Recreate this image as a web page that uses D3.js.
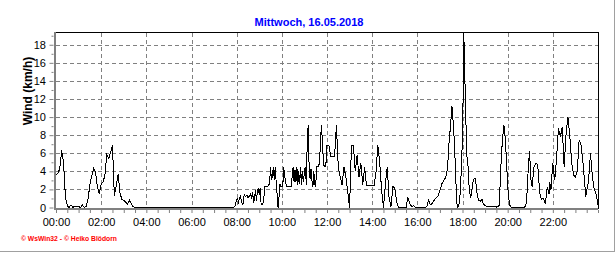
<!DOCTYPE html>
<html>
<head>
<meta charset="utf-8">
<script src="https://cdn.jsdelivr.net/npm/d3@7"></script>
<style>
  body { margin: 0; background: #fff; }
  svg text { font-family: "Liberation Sans", Arial, sans-serif; }
</style>
</head>
<body>
<svg id="chart" width="616" height="253"></svg>
<script>
// *** DATA ***
var title = "Mittwoch, 16.05.2018";
var yTitle = "Wind (km/h)";
var credit = "\u00a9 WsWin32 - \u00a9 Heiko Bl\u00f6dorn";

var hourTicks = [0, 120, 240, 360, 480, 600, 720, 840, 960, 1080, 1200, 1320];
var hourLabels = ["00:00", "02:00", "04:00", "06:00", "08:00", "10:00",
                  "12:00", "14:00", "16:00", "18:00", "20:00", "22:00"];
var halfHourTicks = [0, 30, 60, 90, 120, 150, 180, 210, 240, 270, 300, 330, 360, 390, 420, 450,
                     480, 510, 540, 570, 600, 630, 660, 690, 720, 750, 780, 810, 840, 870, 900, 930,
                     960, 990, 1020, 1050, 1080, 1110, 1140, 1170, 1200, 1230, 1260, 1290, 1320,
                     1350, 1380, 1410, 1440];
var yTicks = [0, 2, 4, 6, 8, 10, 12, 14, 16, 18];
var yMinorTicks = [1, 3, 5, 7, 9, 11, 13, 15, 17, 19];

// minutes after midnight
var minutes = [
  // 00:00 - 03:55
  0, 5, 10, 15, 20, 25, 30, 35, 40, 45, 50, 55,
  60, 65, 70, 75, 80, 85, 90, 95, 100, 105, 110, 115,
  120, 125, 130, 135, 140, 145, 150, 155, 160, 165, 170, 175,
  180, 185, 190, 195, 200, 205, 210, 215, 220, 225, 230, 235,
  // 04:00 - 07:57
  240, 250, 260, 270, 280, 290, 300, 310, 320, 330, 340, 350,
  360, 370, 380, 390, 400, 410, 420, 430, 440, 450, 460, 470, 475, 477.5,
  // 08:00 - 09:57
  480, 482.5, 485, 487.5, 490, 492.5, 495, 497.5, 500, 502.5, 505, 507.5,
  510, 512.5, 515, 517.5, 520, 522.5, 525, 527.5, 530, 532.5, 535, 537.5,
  540, 542.5, 545, 547.5, 550, 552.5, 555, 557.5, 560, 562.5, 565, 567.5,
  570, 572.5, 575, 577.5, 580, 582.5, 585, 587.5, 590, 592.5, 595, 597.5,
  // 10:00 - 11:57
  600, 602.5, 605, 607.5, 610, 612.5, 615, 617.5, 620, 622.5, 625, 627.5,
  630, 632.5, 635, 637.5, 640, 642.5, 645, 647.5, 650, 652.5, 655, 657.5,
  660, 662.5, 665, 667.5, 670, 672.5, 675, 677.5, 680, 682.5, 685, 687.5,
  690, 692.5, 695, 697.5, 700, 702.5, 705, 707.5, 710, 712.5, 715, 717.5,
  // 12:00 - 17:15
  720, 725, 730, 735, 740, 745, 750, 755, 760, 765, 770, 775,
  780, 785, 790, 795, 800, 805, 810, 815, 820, 825, 830, 835,
  840, 845, 850, 855, 860, 865, 870, 875, 880, 885, 890, 895,
  900, 905, 910, 915, 920, 925, 930, 935, 940, 945, 950, 955,
  960, 965, 970, 975, 980, 985, 990, 995, 1000, 1005, 1010, 1015,
  1020, 1025, 1030, 1035,
  // 17:20 - 19:00
  1040, 1044, 1048, 1052, 1056, 1059, 1061.5, 1065, 1068, 1072, 1075, 1079,
  1081.5, 1083.5, 1085.5, 1089.5, 1092, 1095, 1097.5, 1101, 1103.5, 1107, 1111, 1114,
  1117, 1119.5, 1123, 1127.5, 1132, 1135.5, 1140,
  // 19:05 - 24:00
  1145, 1150, 1155, 1160, 1165, 1170, 1175, 1178, 1181, 1186, 1190, 1194,
  1197, 1201, 1205, 1210, 1220, 1230, 1240, 1245, 1250, 1255, 1258, 1262,
  1265, 1270, 1275, 1280, 1285, 1290, 1295, 1300, 1305, 1310, 1312, 1315,
  1318, 1320, 1325, 1330, 1335, 1340, 1345, 1350, 1355, 1360, 1365, 1370,
  1375, 1380, 1385, 1390, 1395, 1400, 1405, 1407.5, 1410, 1415, 1420, 1425,
  1430, 1435, 1440
];

var windKmh = [
  // 00:00 - 03:55
  3.6, 3.8, 4.3, 6.3, 5.0, 1.2, 0.2, 0, 0.3, 0, 0.15, 0.1,
  0.1, 0, 0.3, 0, 0.1, 0.9, 2.5, 3.5, 4.3, 3.9, 2.3, 1.5,
  2.6, 2.8, 3.6, 5.8, 5.4, 6.1, 6.9, 1.3, 2.4, 3.7, 1.6, 0.9,
  0.8, 0.6, 0.4, 0.8, 0.4, 0.1, 0, 0, 0, 0, 0, 0,
  // 04:00 - 07:57
  0, 0, 0, 0, 0, 0, 0, 0, 0, 0, 0, 0,
  0, 0, 0, 0, 0, 0, 0, 0, 0, 0, 0, 0, 0.1, 0.5,
  // 08:00 - 09:57
  0.8, 1.0, 0.6, 1.0, 1.2, 0.8, 0.3, 0.5, 1.5, 1.2, 1.3, 1.4,
  1.1, 1.2, 1.3, 1.5, 0.9, 1.7, 0.5, 1.0, 1.9, 0.7, 1.8, 2.1,
  1.4, 2.2, 0.3, 0.3, 0.5, 1.2, 2.3, 2.3, 2.3, 2.3, 2.5, 2.6,
  4.5, 3.0, 3.5, 4.5, 3.0, 4.5, 2.8, 1.5, 0, 1.2, 2.6, 2.3,
  // 10:00 - 11:57
  2.3, 2.3, 4.5, 3.5, 2.8, 2.3, 2.3, 2.3, 2.3, 2.3, 2.3, 3.5,
  4.5, 2.8, 4.1, 2.8, 4.5, 2.5, 4.0, 2.6, 4.5, 2.5, 4.0, 2.8,
  4.0, 4.5, 2.5, 7.2, 9.1, 4.5, 3.2, 4.3, 3.0, 2.3, 4.0, 2.5,
  2.3, 4.5, 4.5, 4.5, 5.0, 7.0, 9.1, 7.5, 5.4, 4.5, 4.5, 5.0,
  // 12:00 - 17:15
  6.9, 6.9, 5.6, 5.6, 5.6, 9.1, 4.5, 3.4, 2.5, 4.5, 3.4, 1.8,
  0, 6.9, 6.9, 4.0, 5.8, 3.4, 4.9, 2.5, 4.5, 2.4, 2.4, 2.4,
  2.4, 2.4, 3.8, 6.9, 5.0, 2.0, 0, 2.5, 4.5, 1.0, 0.1, 2.3,
  2.2, 0.6, 0, 0, 0, 0, 0, 1.1, 0.4, 0.1, 0.2, 0,
  0, 0, 0, 0, 0, 0.1, 0.8, 0.3, 0.5, 0.8, 1.1, 1.3,
  1.9, 2.6, 3.0, 3.3,
  // 17:20 - 19:00
  4.2, 7.0, 9.0, 11.2, 9.1, 6.7, 3.8, 0.5, 0, 0.5, 2.3, 6.7,
  11.9, 19.3, 15.7, 8.9, 5.6, 4.5, 2.3, 1.2, 1.4, 2.7, 3.2, 3.2,
  2.3, 1.2, 0.8, 0.7, 0.9, 0.4, 0.2,
  // 19:05 - 24:00
  0.1, 0.05, 0.1, 0.1, 0.15, 0.05, 0.1, 0.3, 3.8, 7.5, 9.1, 7.5,
  4.9, 1.9, 0.3, 0, 0, 0, 0, 0, 0.5, 4.5, 6.2, 3.0,
  2.3, 4.5, 4.9, 4.7, 1.6, 0.9, 1.0, 0.4, 2.2, 1.5, 2.8, 1.9,
  3.8, 4.9, 3.0, 5.5, 8.8, 7.8, 8.9, 4.5, 8.0, 10.0, 8.0, 5.0,
  3.6, 3.4, 4.0, 7.5, 6.9, 5.0, 2.5, 1.2, 1.8, 3.0, 6.0, 3.5,
  2.0, 1.5, 0.3
];

// *** SVG ***
var svg = d3.select("#chart");
var plotLeft = 56, plotRight = 598, plotTop = 33, plotBottom = 207.5;

var x = d3.scaleLinear().domain([0, 1440]).range([plotLeft, plotRight]);
var y = d3.scaleLinear().domain([0, 19.3]).range([plotBottom, plotTop]);

function hhmm(m) {
  var i = hourTicks.indexOf(m);
  return i >= 0 ? hourLabels[i] : "";
}

svg.append("rect").attr("width", 616).attr("height", 253).attr("fill", "#fff");

// outer frame (right and bottom only)
svg.append("line").attr("x1", 614.5).attr("x2", 614.5).attr("y1", 0).attr("y2", 252)
  .attr("stroke", "#a0a0a0");
svg.append("line").attr("x1", 0).attr("x2", 615).attr("y1", 251.5).attr("y2", 251.5)
  .attr("stroke", "#a0a0a0");

// title
svg.append("text")
  .attr("x", 309).attr("y", 26)
  .attr("text-anchor", "middle")
  .attr("font-size", "11px").attr("font-weight", "bold")
  .attr("fill", "#0000ff")
  .text(title);

// grid
var grid = svg.append("g").attr("stroke", "#808080").attr("stroke-dasharray", "4,3")
  .attr("shape-rendering", "crispEdges");
grid.selectAll("line.v")
  .data(hourTicks.filter(function(d) { return d > 0; }))
  .enter().append("line")
    .attr("class", "v")
    .attr("x1", function(d) { return Math.round(x(d)) + 0.5; })
    .attr("x2", function(d) { return Math.round(x(d)) + 0.5; })
    .attr("y1", plotTop).attr("y2", plotBottom);
grid.selectAll("line.h")
  .data(yTicks.filter(function(d) { return d > 0; }))
  .enter().append("line")
    .attr("class", "h")
    .attr("x1", plotLeft).attr("x2", plotRight)
    .attr("y1", function(d) { return Math.round(y(d)) + 0.5; })
    .attr("y2", function(d) { return Math.round(y(d)) + 0.5; });

// top and right border
svg.append("line").attr("x1", 55).attr("x2", 599).attr("y1", 32.5).attr("y2", 32.5)
  .attr("stroke", "#000");
svg.append("line").attr("x1", 598.5).attr("x2", 598.5).attr("y1", 32.5).attr("y2", 209)
  .attr("stroke", "#000");

// wind line
svg.append("clipPath").attr("id", "plotclip")
  .append("rect").attr("x", plotLeft).attr("y", plotTop)
  .attr("width", plotRight - plotLeft + 1).attr("height", plotBottom - plotTop + 1);

var line = d3.line()
  .x(function(d, i) { return x(minutes[i]); })
  .y(function(d) { return y(d); });

svg.append("path")
  .datum(windKmh)
  .attr("clip-path", "url(#plotclip)")
  .attr("d", line)
  .attr("fill", "none")
  .attr("stroke", "#000")
  .attr("stroke-width", 1)
  .attr("shape-rendering", "crispEdges");

// axes (grey)
var xAxis = svg.append("g")
  .attr("transform", "translate(0,210)")
  .call(d3.axisBottom(x).tickValues(halfHourTicks).tickSize(3).tickFormat(hhmm));
xAxis.select(".domain").remove();
xAxis.selectAll(".tick line").attr("stroke", "#808080");
xAxis.selectAll("text")
  .attr("y", 16).attr("dy", null)
  .attr("font-size", "11px").attr("font-family", null).attr("fill", "#000");

var yAxis = svg.append("g")
  .attr("transform", "translate(53.5,0)")
  .call(d3.axisLeft(y).tickValues(yTicks).tickSize(4).tickPadding(3.5));
yAxis.select(".domain").remove();
yAxis.selectAll(".tick line").attr("stroke", "#808080");
yAxis.selectAll("text")
  .attr("font-size", "11px").attr("font-family", null).attr("fill", "#000");

var yMinor = svg.append("g")
  .attr("transform", "translate(53.5,0)")
  .call(d3.axisLeft(y).tickValues(yMinorTicks.filter(function(d) { return d < 19.3; }))
    .tickSize(2).tickFormat(""));
yMinor.select(".domain").remove();
yMinor.selectAll(".tick line").attr("stroke", "#808080");

// thick grey axis lines
svg.append("line").attr("x1", 55).attr("x2", 55).attr("y1", 32).attr("y2", 210)
  .attr("stroke", "#808080").attr("stroke-width", 2);
svg.append("line").attr("x1", 54).attr("x2", 598).attr("y1", 209).attr("y2", 209)
  .attr("stroke", "#808080").attr("stroke-width", 2);

// y title
svg.append("text")
  .attr("transform", "translate(32,91) rotate(-90)")
  .attr("text-anchor", "middle")
  .attr("font-size", "12px").attr("font-weight", "bold")
  .text(yTitle);

// credits
svg.append("text")
  .attr("x", 21).attr("y", 240.5)
  .attr("font-size", "7px").attr("font-weight", "bold")
  .attr("fill", "#ff0000")
  .attr("textLength", 96).attr("lengthAdjust", "spacingAndGlyphs")
  .text(credit);
</script>
</body>
</html>
